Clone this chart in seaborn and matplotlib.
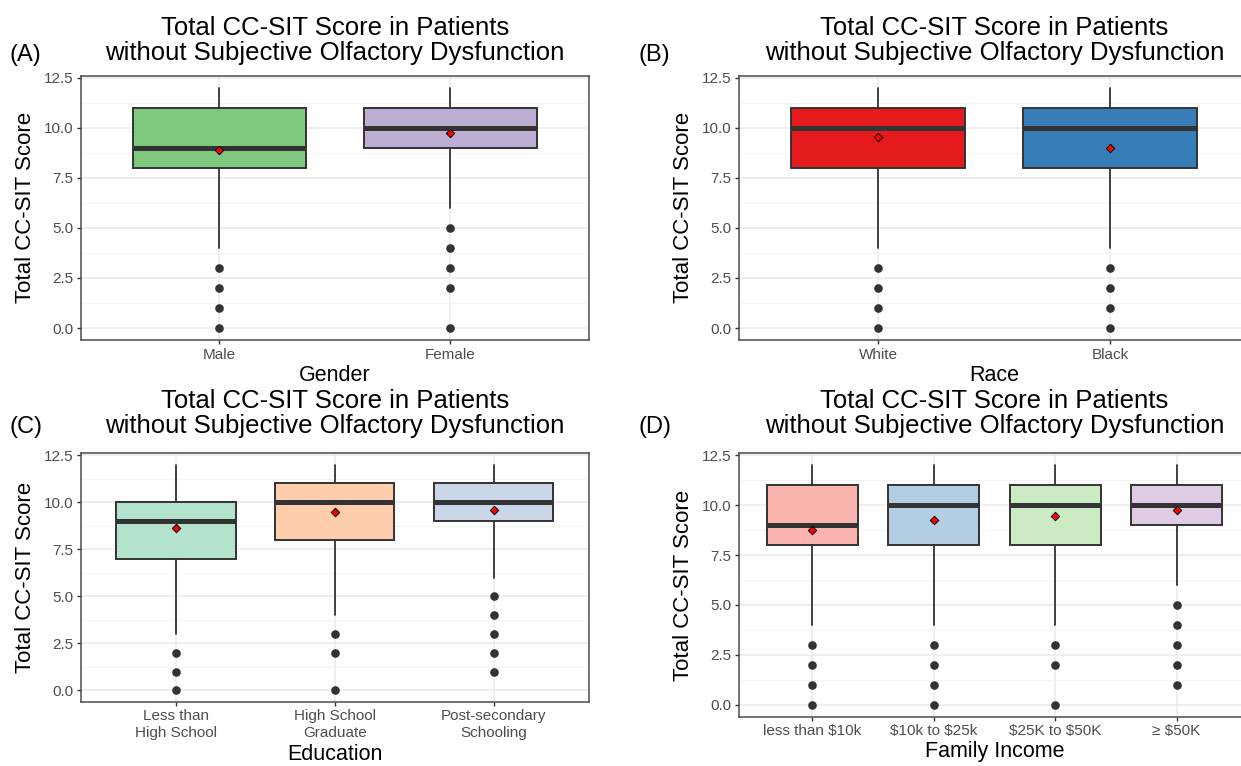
import matplotlib
matplotlib.use("Agg")
import matplotlib.pyplot as plt
from matplotlib.ticker import MultipleLocator
import pandas as pd
import seaborn as sns

TITLE = "Total CC-SIT Score in Patients\nwithout Subjective Olfactory Dysfunction"
YLABEL = "Total CC-SIT Score"

# (A) gender
gender = ["Male", "Female"]
gender_q1 = [8, 9]
gender_med = [9, 10]
gender_q3 = [11, 11]
gender_lo = [4, 6]
gender_hi = [12, 12]
gender_mean = [8.88, 9.72]
gender_out = [[0, 1, 2, 3], [0, 2, 3, 4, 5]]

# (B) race
race = ["White", "Black"]
race_q1 = [8, 8]
race_med = [10, 10]
race_q3 = [11, 11]
race_lo = [4, 4]
race_hi = [12, 12]
race_mean = [9.56, 8.97]
race_out = [[0, 1, 2, 3], [0, 1, 2, 3]]

# (C) education
edu = ["Less than\nHigh School", "High School\nGraduate", "Post-secondary\nSchooling"]
edu_q1 = [7, 8, 9]
edu_med = [9, 10, 10]
edu_q3 = [10, 11, 11]
edu_lo = [3, 4, 6]
edu_hi = [12, 12, 12]
edu_mean = [8.61, 9.48, 9.6]
edu_out = [[0, 1, 2], [0, 2, 3], [1, 2, 3, 4, 5]]

# (D) family income
income = ["less than $10k", "$10k to $25k", "$25K to $50K", "\u2265 $50K"]
income_q1 = [8, 8, 8, 9]
income_med = [9, 10, 10, 10]
income_q3 = [11, 11, 11, 11]
income_lo = [4, 4, 4, 6]
income_hi = [12, 12, 12, 12]
income_mean = [8.74, 9.27, 9.44, 9.76]
income_out = [[0, 1, 2, 3], [0, 1, 2, 3], [0, 2, 3], [1, 2, 3, 4, 5]]

accent = ["#7FC97F", "#BEAED4"]
set1 = ["#E41A1C", "#377EB8"]
pastel2 = ["#B3E2CD", "#FDCDAC", "#CBD5E8"]
pastel1 = ["#FBB4AE", "#B3CDE3", "#CCEBC5", "#DECBE4"]

sns.set_theme(style="whitegrid")
plt.rcParams['font.family'] = ['Liberation Sans', 'DejaVu Sans']
plt.rcParams['text.color'] = 'black'
plt.rcParams['axes.labelcolor'] = 'black'

DARK = "#333333"


def draw_panel(ax, groups, q1, med, q3, lo, hi, means, outliers, colors,
               xlabel, title_pad, xlabel_y):
    n = len(groups)
    stats = [dict(label=g, q1=a, med=m, q3=b, whislo=l, whishi=h, fliers=[])
             for g, a, m, b, l, h in zip(groups, q1, med, q3, lo, hi)]
    res = ax.bxp(stats, positions=range(n), widths=0.75, patch_artist=True,
                 showcaps=False, showfliers=False, manage_ticks=False,
                 boxprops=dict(edgecolor=DARK, linewidth=1.4),
                 medianprops=dict(color=DARK, linewidth=3.6, solid_capstyle='butt'),
                 whiskerprops=dict(color=DARK, linewidth=1.3), zorder=2)
    for box, c in zip(res['boxes'], colors):
        box.set_facecolor(c)

    # outliers and group means drawn with seaborn on the same categorical positions
    out_df = pd.DataFrame({'group': [g for g, o in zip(groups, outliers) for _ in o],
                           'score': [v for o in outliers for v in o]})
    mean_df = pd.DataFrame({'group': groups, 'score': means})
    sns.stripplot(data=out_df, x='group', y='score', order=groups, jitter=False,
                  color=DARK, size=6.2, linewidth=0, ax=ax, zorder=3)
    sns.stripplot(data=mean_df, x='group', y='score', order=groups, jitter=False,
                  marker='D', color='red', edgecolor='black', linewidth=0.7,
                  size=4.3, ax=ax, zorder=4)

    ax.set_xlim(-0.6, n - 0.4)
    ax.set_xticks(range(n))
    ax.set_xticklabels([g.replace('$', r'\$') for g in groups])
    ax.yaxis.set_major_locator(MultipleLocator(2.5))
    ax.yaxis.set_minor_locator(MultipleLocator(1.25))
    ax.set_yticks([0, 2.5, 5, 7.5, 10, 12.5])
    ax.set_yticklabels(["0.0", "2.5", "5.0", "7.5", "10.0", "12.5"])
    ax.set_ylim(-0.6, 12.6)

    ax.set_facecolor('white')
    ax.grid(True, which='major', color='#EBEBEB', linewidth=1.1, zorder=0)
    ax.grid(True, which='minor', axis='y', color='#F2F2F2', linewidth=0.6, zorder=0)
    ax.xaxis.grid(True, which='major', color='#EBEBEB', linewidth=1.1)
    ax.set_axisbelow(True)
    for sp in ax.spines.values():
        sp.set_visible(True)
        sp.set_color('#4D4D4D')
        sp.set_linewidth(1.1)
    ax.tick_params(axis='both', which='major', length=3, width=1, color=DARK,
                   labelcolor='#4D4D4D', labelsize=11, pad=2.5, left=True, bottom=True)
    ax.tick_params(axis='y', which='minor', length=0)

    ax.set_title(TITLE, fontsize=18.5, pad=title_pad, va='bottom', linespacing=1.08,
                 color='black')
    ax.set_ylabel(YLABEL, fontsize=16, color='black')
    ax.yaxis.set_label_coords(-0.088, 0.5)
    ax.set_xlabel(xlabel, fontsize=15.5, color='black')
    ax.xaxis.set_label_coords(0.5, xlabel_y)


fig = plt.figure(figsize=(12.41, 7.66), dpi=100)
fig.patch.set_facecolor('white')

ax_a = fig.add_axes([0.0650, 0.5561, 0.4096, 0.3451])
ax_b = fig.add_axes([0.5957, 0.5561, 0.4111, 0.3451])
ax_c = fig.add_axes([0.0650, 0.0839, 0.4096, 0.3243])
ax_d = fig.add_axes([0.5957, 0.0644, 0.4111, 0.3438])

draw_panel(ax_a, gender, gender_q1, gender_med, gender_q3, gender_lo, gender_hi,
           gender_mean, gender_out, accent, "Gender", 7.5, -0.095)
draw_panel(ax_b, race, race_q1, race_med, race_q3, race_lo, race_hi,
           race_mean, race_out, set1, "Race", 7.5, -0.095)
draw_panel(ax_c, edu, edu_q1, edu_med, edu_q3, edu_lo, edu_hi,
           edu_mean, edu_out, pastel2, "Education", 11, -0.17)
draw_panel(ax_d, income, income_q1, income_med, income_q3, income_lo, income_hi,
           income_mean, income_out, pastel1, "Family Income", 11, -0.093)

fig.text(10 / 1241, 1 - 60.7 / 766, "(A)", fontsize=17, va='baseline')
fig.text(639 / 1241, 1 - 60.7 / 766, "(B)", fontsize=17, va='baseline')
fig.text(10 / 1241, 1 - 433 / 766, "(C)", fontsize=17, va='baseline')
fig.text(639 / 1241, 1 - 433 / 766, "(D)", fontsize=17, va='baseline')

fig.savefig("out.png", dpi=100, facecolor='white')
plt.close(fig)
